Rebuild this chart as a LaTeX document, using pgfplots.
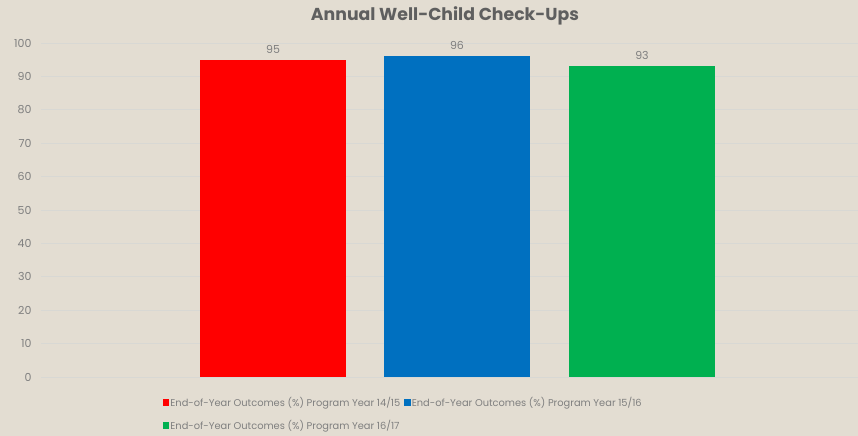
\documentclass[border=0pt]{standalone}
\usepackage{fontspec}
\setmainfont{Poppins}
\usepackage{pgfplots}
\pgfplotsset{compat=1.18}
\definecolor{bg}{HTML}{E3DDD2}
\definecolor{gridc}{HTML}{D8D8D4}
\definecolor{txt}{HTML}{7F7F7F}
\definecolor{ttl}{HTML}{5F5F5F}
\definecolor{cred}{HTML}{FF0000}
\definecolor{cblue}{HTML}{0070C0}
\definecolor{cgreen}{HTML}{00B050}
\begin{document}
\begin{tikzpicture}[x=1bp,y=1bp]
\fill[bg] (0,0) rectangle (858,436);
\useasboundingbox (0,0) rectangle (858,436);
\node[font=\fontsize{17.3bp}{20bp}\selectfont\bfseries, text=ttl] at (445,420) {Annual Well-Child Check-Ups};
\begin{axis}[
  at={(41bp,59bp)}, anchor=south west,
  scale only axis, width=817bp, height=334bp,
  xmin=-416, xmax=401, ymin=0, ymax=100,
  ytick={0,10,...,100}, xtick=\empty,
  axis line style={draw=none}, tick style={draw=none},
  ymajorgrids, grid style={gridc, line width=0.9bp},
  yticklabel style={font=\fontsize{11bp}{13bp}\selectfont, text=txt, xshift=-6bp},
  /pgf/number format/assume math mode=true,
  clip=false,
  nodes near coords,
  every node near coord/.append style={font=\fontsize{11bp}{13bp}\selectfont, text=txt, yshift=3bp},
  legend columns=2,
  legend cell align=left,
  legend style={at={(axis description cs:0.149,-0.058)}, anchor=north west, draw=none, fill=none,
    font=\fontsize{9.85bp}{11bp}\selectfont, text=txt, inner sep=0pt,
    row sep=10bp,
    nodes={inner sep=1bp},
    /tikz/every even column/.append style={column sep=3bp}},
  legend image code/.code={\fill[#1] (0bp,-3bp) rectangle (6.5bp,3.5bp);},
]
\addplot[ybar, bar shift=0pt, bar width=146, fill=cred, draw=none] coordinates {(-184,95)};
\addlegendentry{End-of-Year Outcomes (\%) Program Year 14/15}
\addplot[ybar, bar shift=0pt, bar width=146, fill=cblue, draw=none] coordinates {(0,96)};
\addlegendentry{End-of-Year Outcomes (\%) Program Year 15/16}
\addplot[ybar, bar shift=0pt, bar width=146, fill=cgreen, draw=none] coordinates {(185,93)};
\addlegendentry{End-of-Year Outcomes (\%) Program Year 16/17}
\end{axis}
\end{tikzpicture}
\end{document}
